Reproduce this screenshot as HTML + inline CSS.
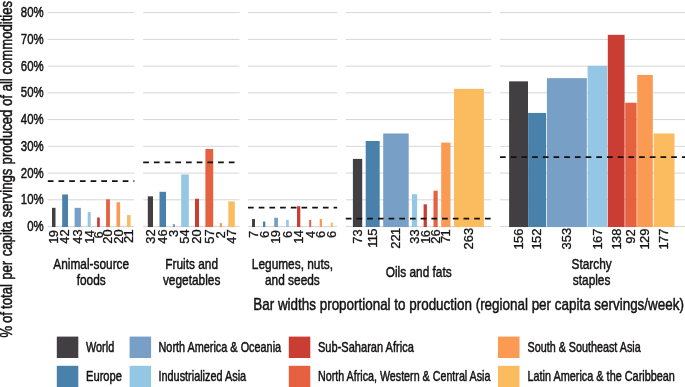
<!DOCTYPE html>
<html><head><meta charset="utf-8"><title>Chart</title>
<style>
html,body{margin:0;padding:0;background:#fff;}
body{width:685px;height:387px;overflow:hidden;}
svg{display:block;font-family:"Liberation Sans",Arial,Helvetica,sans-serif;fill:#151313;}
text{stroke:#151313;stroke-width:0.5px;stroke-linejoin:round;}
.g{stroke:#d6d6d6;stroke-width:1;}
.d{stroke:#111;stroke-width:1.7;stroke-dasharray:5.7 5;}
.t{font-size:12.2px;stroke-width:0.3px;text-anchor:end;}
</style></head><body>
<svg width="685" height="387" viewBox="0 0 685 387">
<rect width="685" height="387" fill="#fff"/>
<line class="g" x1="47.8" x2="134.4" y1="226.55" y2="226.55"/>
<line class="g" x1="47.8" x2="134.4" y1="199.81" y2="199.81"/>
<line class="g" x1="47.8" x2="134.4" y1="173.07" y2="173.07"/>
<line class="g" x1="47.8" x2="134.4" y1="146.33" y2="146.33"/>
<line class="g" x1="47.8" x2="134.4" y1="119.59" y2="119.59"/>
<line class="g" x1="47.8" x2="134.4" y1="92.85" y2="92.85"/>
<line class="g" x1="47.8" x2="134.4" y1="66.11" y2="66.11"/>
<line class="g" x1="47.8" x2="134.4" y1="39.37" y2="39.37"/>
<line class="g" x1="47.8" x2="134.4" y1="12.63" y2="12.63"/>
<line class="g" x1="143.2" x2="239.5" y1="226.55" y2="226.55"/>
<line class="g" x1="143.2" x2="239.5" y1="199.81" y2="199.81"/>
<line class="g" x1="143.2" x2="239.5" y1="173.07" y2="173.07"/>
<line class="g" x1="143.2" x2="239.5" y1="146.33" y2="146.33"/>
<line class="g" x1="143.2" x2="239.5" y1="119.59" y2="119.59"/>
<line class="g" x1="143.2" x2="239.5" y1="92.85" y2="92.85"/>
<line class="g" x1="143.2" x2="239.5" y1="66.11" y2="66.11"/>
<line class="g" x1="143.2" x2="239.5" y1="39.37" y2="39.37"/>
<line class="g" x1="143.2" x2="239.5" y1="12.63" y2="12.63"/>
<line class="g" x1="248.0" x2="337.2" y1="226.55" y2="226.55"/>
<line class="g" x1="248.0" x2="337.2" y1="199.81" y2="199.81"/>
<line class="g" x1="248.0" x2="337.2" y1="173.07" y2="173.07"/>
<line class="g" x1="248.0" x2="337.2" y1="146.33" y2="146.33"/>
<line class="g" x1="248.0" x2="337.2" y1="119.59" y2="119.59"/>
<line class="g" x1="248.0" x2="337.2" y1="92.85" y2="92.85"/>
<line class="g" x1="248.0" x2="337.2" y1="66.11" y2="66.11"/>
<line class="g" x1="248.0" x2="337.2" y1="39.37" y2="39.37"/>
<line class="g" x1="248.0" x2="337.2" y1="12.63" y2="12.63"/>
<line class="g" x1="345.8" x2="491.4" y1="226.55" y2="226.55"/>
<line class="g" x1="345.8" x2="491.4" y1="199.81" y2="199.81"/>
<line class="g" x1="345.8" x2="491.4" y1="173.07" y2="173.07"/>
<line class="g" x1="345.8" x2="491.4" y1="146.33" y2="146.33"/>
<line class="g" x1="345.8" x2="491.4" y1="119.59" y2="119.59"/>
<line class="g" x1="345.8" x2="491.4" y1="92.85" y2="92.85"/>
<line class="g" x1="345.8" x2="491.4" y1="66.11" y2="66.11"/>
<line class="g" x1="345.8" x2="491.4" y1="39.37" y2="39.37"/>
<line class="g" x1="345.8" x2="491.4" y1="12.63" y2="12.63"/>
<line class="g" x1="500.0" x2="685.5" y1="226.55" y2="226.55"/>
<line class="g" x1="500.0" x2="685.5" y1="199.81" y2="199.81"/>
<line class="g" x1="500.0" x2="685.5" y1="173.07" y2="173.07"/>
<line class="g" x1="500.0" x2="685.5" y1="146.33" y2="146.33"/>
<line class="g" x1="500.0" x2="685.5" y1="119.59" y2="119.59"/>
<line class="g" x1="500.0" x2="685.5" y1="92.85" y2="92.85"/>
<line class="g" x1="500.0" x2="685.5" y1="66.11" y2="66.11"/>
<line class="g" x1="500.0" x2="685.5" y1="39.37" y2="39.37"/>
<line class="g" x1="500.0" x2="685.5" y1="12.63" y2="12.63"/>
<rect x="52.0" y="207.83" width="3.50" height="19.22" fill="#423f43"/>
<rect x="62.2" y="194.46" width="5.80" height="32.59" fill="#4981aa"/>
<rect x="74.6" y="207.83" width="6.30" height="19.22" fill="#789fc6"/>
<rect x="87.7" y="212.11" width="3.00" height="14.94" fill="#93c7e4"/>
<rect x="97.1" y="217.46" width="2.70" height="9.59" fill="#c93d32"/>
<rect x="106.1" y="199.28" width="3.80" height="27.77" fill="#e5613f"/>
<rect x="116.5" y="202.22" width="3.60" height="24.83" fill="#fb9a53"/>
<rect x="127.0" y="215.05" width="3.60" height="12.00" fill="#fbbb5f"/>
<line class="d" x1="47.8" x2="134.4" y1="181.09" y2="181.09"/>
<text class="t" transform="translate(58.10,229.30) rotate(-90) scale(1.06,1)" dx="-0.7 -0.7">19</text>
<text class="t" transform="translate(69.45,229.30) rotate(-90) scale(1.06,1)">42</text>
<text class="t" transform="translate(82.10,229.30) rotate(-90) scale(1.06,1)">43</text>
<text class="t" transform="translate(93.55,229.30) rotate(-90) scale(1.06,1)" dx="-0.7 -0.7">14</text>
<text class="t" transform="translate(102.80,231.40) rotate(-90) scale(1.06,1)">6</text>
<text class="t" transform="translate(112.35,229.30) rotate(-90) scale(1.06,1)">20</text>
<text class="t" transform="translate(122.65,229.30) rotate(-90) scale(1.06,1)">20</text>
<text class="t" transform="translate(133.15,229.30) rotate(-90) scale(1.06,1)" dx="0 -0.7">21</text>
<rect x="147.8" y="196.33" width="5.20" height="30.72" fill="#423f43"/>
<rect x="159.5" y="191.79" width="6.50" height="35.26" fill="#4981aa"/>
<rect x="172.8" y="224.14" width="2.20" height="2.91" fill="#789fc6"/>
<rect x="181.2" y="174.41" width="7.60" height="52.64" fill="#93c7e4"/>
<rect x="195.0" y="198.74" width="4.00" height="28.31" fill="#c93d32"/>
<rect x="205.4" y="149.00" width="7.80" height="78.05" fill="#e5613f"/>
<rect x="219.8" y="223.07" width="2.20" height="3.98" fill="#fb9a53"/>
<rect x="228.3" y="201.41" width="6.50" height="25.64" fill="#fbbb5f"/>
<line class="d" x1="143.2" x2="239.5" y1="162.37" y2="162.37"/>
<text class="t" transform="translate(154.75,229.30) rotate(-90) scale(1.06,1)">32</text>
<text class="t" transform="translate(167.10,229.30) rotate(-90) scale(1.06,1)">46</text>
<text class="t" transform="translate(178.25,229.70) rotate(-90) scale(1.06,1)">3</text>
<text class="t" transform="translate(189.35,229.30) rotate(-90) scale(1.06,1)">54</text>
<text class="t" transform="translate(201.35,229.30) rotate(-90) scale(1.06,1)">20</text>
<text class="t" transform="translate(213.65,229.30) rotate(-90) scale(1.06,1)">57</text>
<text class="t" transform="translate(225.25,231.20) rotate(-90) scale(1.06,1)">2</text>
<text class="t" transform="translate(235.90,229.30) rotate(-90) scale(1.06,1)">47</text>
<rect x="252.0" y="219.06" width="3.00" height="7.99" fill="#423f43"/>
<rect x="263.0" y="221.47" width="2.30" height="5.58" fill="#4981aa"/>
<rect x="274.2" y="217.73" width="3.80" height="9.32" fill="#789fc6"/>
<rect x="286.2" y="219.87" width="2.50" height="7.19" fill="#93c7e4"/>
<rect x="297.0" y="206.23" width="3.30" height="20.82" fill="#c93d32"/>
<rect x="309.2" y="219.87" width="2.00" height="7.19" fill="#e5613f"/>
<rect x="319.7" y="219.06" width="2.30" height="7.99" fill="#fb9a53"/>
<rect x="330.8" y="222.54" width="2.00" height="4.51" fill="#fbbb5f"/>
<line class="d" x1="248.0" x2="337.2" y1="207.56" y2="207.56"/>
<text class="t" transform="translate(257.85,230.70) rotate(-90) scale(1.06,1)">7</text>
<text class="t" transform="translate(268.50,230.70) rotate(-90) scale(1.06,1)">6</text>
<text class="t" transform="translate(280.45,229.30) rotate(-90) scale(1.06,1)" dx="-0.7 -0.7">19</text>
<text class="t" transform="translate(291.80,230.70) rotate(-90) scale(1.06,1)">6</text>
<text class="t" transform="translate(303.00,229.30) rotate(-90) scale(1.06,1)" dx="-0.7 -0.7">14</text>
<text class="t" transform="translate(314.55,230.70) rotate(-90) scale(1.06,1)">4</text>
<text class="t" transform="translate(325.20,230.70) rotate(-90) scale(1.06,1)">6</text>
<text class="t" transform="translate(336.15,230.70) rotate(-90) scale(1.06,1)">6</text>
<rect x="352.9" y="158.90" width="9.30" height="68.15" fill="#423f43"/>
<rect x="365.7" y="140.98" width="14.00" height="86.07" fill="#4981aa"/>
<rect x="383.2" y="133.49" width="25.50" height="93.56" fill="#789fc6"/>
<rect x="412.0" y="194.19" width="5.10" height="32.86" fill="#93c7e4"/>
<rect x="423.6" y="204.36" width="3.30" height="22.69" fill="#c93d32"/>
<rect x="433.5" y="190.72" width="4.20" height="36.33" fill="#e5613f"/>
<rect x="441.2" y="142.59" width="9.30" height="84.46" fill="#fb9a53"/>
<rect x="454.0" y="88.84" width="29.90" height="138.21" fill="#fbbb5f"/>
<line class="d" x1="345.8" x2="491.4" y1="218.53" y2="218.53"/>
<text class="t" transform="translate(361.90,229.30) rotate(-90) scale(1.06,1)">73</text>
<text class="t" transform="translate(377.05,227.90) rotate(-90) scale(1.06,1)" dx="-0.7 -0.8 -0.7">115</text>
<text class="t" transform="translate(400.30,227.90) rotate(-90) scale(1.06,1)" dx="0 0 -0.7">221</text>
<text class="t" transform="translate(418.90,229.30) rotate(-90) scale(1.06,1)">33</text>
<text class="t" transform="translate(429.60,229.30) rotate(-90) scale(1.06,1)" dx="-0.7 -0.7">16</text>
<text class="t" transform="translate(439.95,229.30) rotate(-90) scale(1.06,1)">26</text>
<text class="t" transform="translate(450.20,229.30) rotate(-90) scale(1.06,1)" dx="0 -0.7">71</text>
<text class="t" transform="translate(473.30,227.90) rotate(-90) scale(1.06,1)">263</text>
<rect x="509.1" y="81.35" width="18.90" height="145.70" fill="#423f43"/>
<rect x="528.1" y="112.91" width="18.00" height="114.15" fill="#4981aa"/>
<rect x="546.9" y="78.14" width="39.90" height="148.91" fill="#789fc6"/>
<rect x="587.6" y="65.84" width="19.70" height="161.21" fill="#93c7e4"/>
<rect x="607.8" y="34.82" width="16.80" height="192.23" fill="#c93d32"/>
<rect x="625.2" y="102.74" width="11.40" height="124.31" fill="#e5613f"/>
<rect x="637.2" y="74.93" width="15.60" height="152.12" fill="#fb9a53"/>
<rect x="653.7" y="133.49" width="20.80" height="93.56" fill="#fbbb5f"/>
<line class="d" x1="500.0" x2="685.5" y1="157.03" y2="157.03"/>
<text class="t" transform="translate(522.90,227.90) rotate(-90) scale(1.06,1)" dx="-0.7 -0.7 0">156</text>
<text class="t" transform="translate(541.45,227.90) rotate(-90) scale(1.06,1)" dx="-0.7 -0.7 0">152</text>
<text class="t" transform="translate(571.20,227.90) rotate(-90) scale(1.06,1)">353</text>
<text class="t" transform="translate(601.80,227.90) rotate(-90) scale(1.06,1)" dx="-0.7 -0.7 0">167</text>
<text class="t" transform="translate(620.55,227.90) rotate(-90) scale(1.06,1)" dx="-0.7 -0.7 0">138</text>
<text class="t" transform="translate(635.25,229.30) rotate(-90) scale(1.06,1)">92</text>
<text class="t" transform="translate(649.35,227.90) rotate(-90) scale(1.06,1)" dx="-0.7 -0.7 0">129</text>
<text class="t" transform="translate(668.45,227.90) rotate(-90) scale(1.06,1)" dx="-0.7 -0.7 0">177</text>
<text transform="translate(43.6,231.15) scale(0.765,1)" font-size="14.9" text-anchor="end">0%</text>
<text transform="translate(43.6,204.41) scale(0.765,1)" font-size="14.9" text-anchor="end">10%</text>
<text transform="translate(43.6,177.67) scale(0.765,1)" font-size="14.9" text-anchor="end">20%</text>
<text transform="translate(43.6,150.93) scale(0.765,1)" font-size="14.9" text-anchor="end">30%</text>
<text transform="translate(43.6,124.19) scale(0.765,1)" font-size="14.9" text-anchor="end">40%</text>
<text transform="translate(43.6,97.45) scale(0.765,1)" font-size="14.9" text-anchor="end">50%</text>
<text transform="translate(43.6,70.71) scale(0.765,1)" font-size="14.9" text-anchor="end">60%</text>
<text transform="translate(43.6,43.97) scale(0.765,1)" font-size="14.9" text-anchor="end">70%</text>
<text transform="translate(43.6,17.23) scale(0.765,1)" font-size="14.9" text-anchor="end">80%</text>
<text transform="translate(11.7,337.4) rotate(-90) scale(0.822,1)" font-size="16">% <tspan dx="-1.2">of</tspan> <tspan dx="-0.6">total</tspan> <tspan dx="0.7">per</tspan> <tspan dx="1.1">capita</tspan> servings <tspan dx="0.8">produced</tspan> of all commodities</text>
<text transform="translate(91.2,269.2) scale(0.771,1)" font-size="15.4" text-anchor="middle">Animal-source</text>
<text transform="translate(91.2,285.4) scale(0.771,1)" font-size="15.4" text-anchor="middle">foods</text>
<text transform="translate(191.6,269.2) scale(0.771,1)" font-size="15.4" text-anchor="middle">Fruits and</text>
<text transform="translate(191.6,285.4) scale(0.771,1)" font-size="15.4" text-anchor="middle">vegetables</text>
<text transform="translate(292.4,269.2) scale(0.771,1)" font-size="15.4" text-anchor="middle">Legumes, nuts,</text>
<text transform="translate(292.4,285.4) scale(0.771,1)" font-size="15.4" text-anchor="middle">and seeds</text>
<text transform="translate(418.7,277.4) scale(0.771,1)" font-size="15.4" text-anchor="middle">Oils and fats</text>
<text transform="translate(591.6,269.2) scale(0.771,1)" font-size="15.4" text-anchor="middle">Starchy</text>
<text transform="translate(591.6,285.4) scale(0.771,1)" font-size="15.4" text-anchor="middle">staples</text>
<text transform="translate(253.3,309.5) scale(0.8245,1)" font-size="16.3" text-anchor="start">Bar widths proportional to production (regional per capita servings/week)</text>
<rect x="56.8" y="336.6" width="21.5" height="21.4" fill="#423f43"/>
<rect x="56.8" y="365.8" width="21.5" height="21.4" fill="#4981aa"/>
<text transform="translate(86,351.8) scale(0.7889,1)" font-size="13.8" text-anchor="start">World</text>
<text transform="translate(86,380.9) scale(0.8086,1)" font-size="13.8" text-anchor="start">Europe</text>
<rect x="129.6" y="336.6" width="21.5" height="21.4" fill="#789fc6"/>
<rect x="129.6" y="365.8" width="21.5" height="21.4" fill="#93c7e4"/>
<text transform="translate(158.5,351.8) scale(0.7889,1)" font-size="13.8" text-anchor="start">North America &amp; Oceania</text>
<text transform="translate(158.5,380.9) scale(0.7889,1)" font-size="13.8" text-anchor="start">Industrialized Asia</text>
<rect x="288.8" y="336.6" width="21.5" height="21.4" fill="#c93d32"/>
<rect x="288.8" y="365.8" width="21.5" height="21.4" fill="#e5613f"/>
<text transform="translate(318,351.8) scale(0.8007,1)" font-size="13.8" text-anchor="start">Sub-Saharan Africa</text>
<text transform="translate(318,380.9) scale(0.7772,1)" font-size="13.8" text-anchor="start">North Africa, Western &amp; Central Asia</text>
<rect x="498" y="336.6" width="21.5" height="21.4" fill="#fb9a53"/>
<rect x="498" y="365.8" width="21.5" height="21.4" fill="#fbbb5f"/>
<text transform="translate(527.5,351.8) scale(0.7811,1)" font-size="13.8" text-anchor="start">South &amp; Southeast Asia</text>
<text transform="translate(527.5,380.9) scale(0.7889,1)" font-size="13.8" text-anchor="start">Latin America &amp; the Caribbean</text>
</svg></body></html>
